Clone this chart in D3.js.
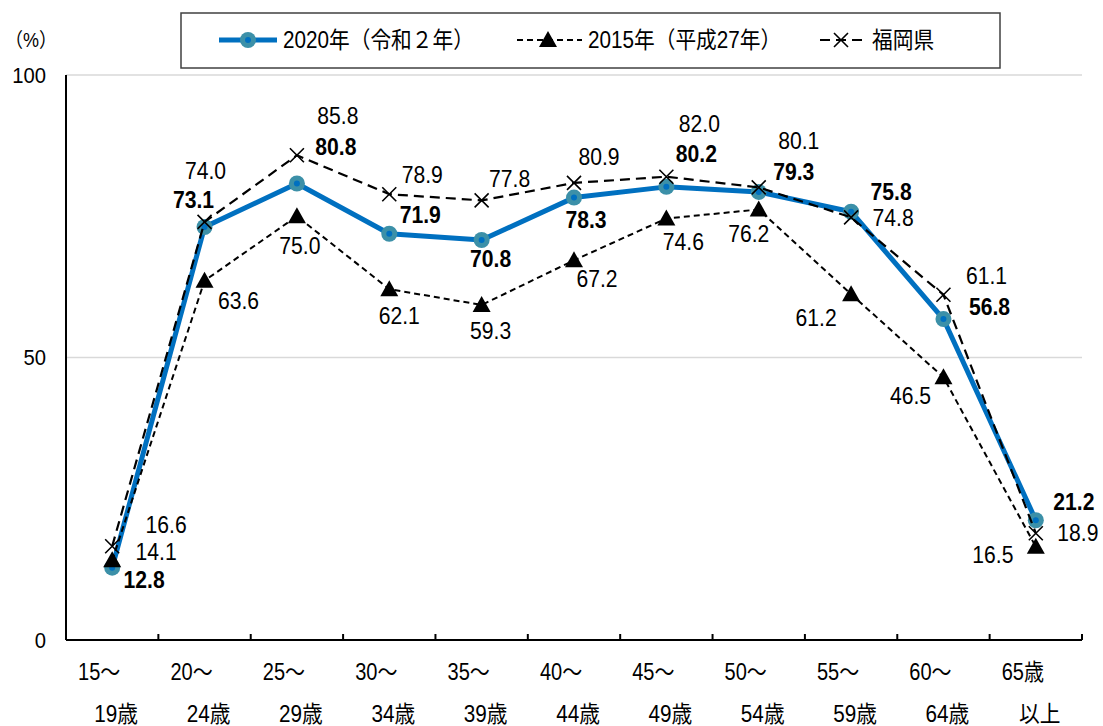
<!DOCTYPE html>
<html>
<head>
<meta charset="utf-8">
<script src="https://cdn.jsdelivr.net/npm/d3@7"></script>
<style>
  body { margin: 0; background: #fff; }
  svg text { font-family: "Liberation Sans", Arial, "Noto Sans CJK JP", sans-serif; fill: #000; }
</style>
</head>
<body>
<svg id="chart" width="1103" height="726"></svg>
<script>
// data
const ageTop = ['15～', '20～', '25～', '30～', '35～', '40～', '45～', '50～', '55～', '60～', '65歳'];
const ageBottom = ['19歳', '24歳', '29歳', '34歳', '39歳', '44歳', '49歳', '54歳', '59歳', '64歳', '以上'];
const yTicks = [0, 50, 100];
const rate2020 = [12.8, 73.1, 80.8, 71.9, 70.8, 78.3, 80.2, 79.3, 75.8, 56.8, 21.2];
const rate2015 = [14.1, 63.6, 75.0, 62.1, 59.3, 67.2, 74.6, 76.2, 61.2, 46.5, 16.5];
const rateFukuoka = [16.6, 74.0, 85.8, 78.9, 77.8, 80.9, 82.0, 80.1, 74.8, 61.1, 18.9];
const seriesNames = ['2020年（令和２年）', '2015年（平成27年）', '福岡県'];

// label placement (px offsets from each point)
const off2020 = [[32, 12], [-11, -27], [39, -37], [31, -19], [9, 19], [12, 22], [30, -33], [35, -20], [40, -20], [46, -12], [38, -18]];
const off2015 = [[44, -8], [34, 20], [3, 30], [10, 27], [9, 26], [23, 19], [17, 23], [-10, 24], [-35, 24], [-33, 19], [-43, 8]];
const offFukuoka = [[54, -21], [1, -51], [41, -39], [33, -19], [28, -21], [25, -26], [33, -53], [40, -47], [42, 1], [43, -19], [42, 0]];

const svg = d3.select('#chart');
const plotLeft = 66, plotRight = 1082, plotTop = 75, plotBottom = 640;

const x = d3.scaleBand().domain(ageTop).range([plotLeft, plotRight]);
const y = d3.scaleLinear().domain([0, 100]).range([plotBottom, plotTop]);
const cx = i => x(ageTop[i]) + x.bandwidth() / 2;

// condensed text look
const place = (px, py, sx) => 'translate(' + px + ',' + py + ') scale(' + sx + ',1)';

// gridlines
svg.append('g')
  .selectAll('line')
  .data(yTicks.filter(d => d > 0))
  .enter()
  .append('line')
  .attr('x1', plotLeft).attr('x2', plotRight)
  .attr('y1', d => y(d)).attr('y2', d => y(d))
  .attr('stroke', '#d9d9d9').attr('stroke-width', 1.3);

// y labels
svg.append('g')
  .selectAll('text')
  .data(yTicks)
  .enter()
  .append('text')
  .attr('transform', d => place(46, y(d), 0.92))
  .attr('dy', '0.35em')
  .attr('text-anchor', 'end')
  .style('font-size', '22px')
  .text(d => d);

svg.append('text')
  .attr('transform', place(5, 40, 0.9))
  .attr('dy', '0.35em')
  .style('font-size', '20px')
  .text('（%）');

// axes lines
svg.append('line')
  .attr('x1', plotLeft).attr('x2', plotLeft).attr('y1', plotTop).attr('y2', plotBottom)
  .attr('stroke', '#000').attr('stroke-width', 2);
svg.append('line')
  .attr('x1', plotLeft).attr('x2', plotRight).attr('y1', plotBottom).attr('y2', plotBottom)
  .attr('stroke', '#000').attr('stroke-width', 2);

// tick marks at band boundaries
const bounds = ageTop.map(d => x(d)).concat([plotRight]).slice(1);
svg.append('g')
  .selectAll('line')
  .data(bounds)
  .enter()
  .append('line')
  .attr('x1', d => d).attr('x2', d => d)
  .attr('y1', plotBottom).attr('y2', plotBottom - 6)
  .attr('stroke', '#000').attr('stroke-width', 2);

// x labels (two rows)
svg.append('g')
  .selectAll('text')
  .data(ageTop)
  .enter()
  .append('text')
  .attr('transform', (d, i) => place(cx(i) - 13, 672, 0.87))
  .attr('dy', '0.35em')
  .attr('text-anchor', 'middle')
  .style('font-size', '23px')
  .text(d => d);

svg.append('g')
  .selectAll('text')
  .data(ageBottom)
  .enter()
  .append('text')
  .attr('transform', (d, i) => place(cx(i) + 4, 714, 0.9))
  .attr('dy', '0.35em')
  .attr('text-anchor', 'middle')
  .style('font-size', '23px')
  .text(d => d);

const line = d3.line().x((d, i) => cx(i)).y(d => y(d));

// 2020 series
svg.append('path')
  .datum(rate2020)
  .attr('d', line)
  .attr('fill', 'none')
  .attr('stroke', '#0070c0')
  .attr('stroke-width', 5)
  .attr('stroke-linejoin', 'round');

const dots = svg.append('g')
  .selectAll('g')
  .data(rate2020)
  .enter()
  .append('g')
  .attr('transform', (d, i) => 'translate(' + cx(i) + ',' + y(d) + ')');
dots.append('circle').attr('r', 8).attr('fill', '#3c90a8');
dots.append('circle').attr('r', 3).attr('fill', '#0070c0');

// 2015 series
svg.append('path')
  .datum(rate2015)
  .attr('d', line)
  .attr('fill', 'none')
  .attr('stroke', '#000')
  .attr('stroke-width', 2)
  .attr('stroke-dasharray', '6,4');

svg.append('g')
  .selectAll('path')
  .data(rate2015)
  .enter()
  .append('path')
  .attr('d', 'M0,-9L9,7L-9,7Z')
  .attr('transform', (d, i) => 'translate(' + cx(i) + ',' + y(d) + ')')
  .attr('fill', '#000');

// Fukuoka series
svg.append('path')
  .datum(rateFukuoka)
  .attr('d', line)
  .attr('fill', 'none')
  .attr('stroke', '#000')
  .attr('stroke-width', 2.2)
  .attr('stroke-dasharray', '10,6');

svg.append('g')
  .selectAll('path')
  .data(rateFukuoka)
  .enter()
  .append('path')
  .attr('d', 'M-7,-7L7,7M-7,7L7,-7')
  .attr('transform', (d, i) => 'translate(' + cx(i) + ',' + y(d) + ')')
  .attr('stroke', '#000')
  .attr('stroke-width', 1.6);

// data labels
function addLabels(data, offsets, bold) {
  svg.append('g')
    .selectAll('text')
    .data(data)
    .enter()
    .append('text')
    .attr('transform', (d, i) => place(cx(i) + offsets[i][0], y(d) + offsets[i][1], 0.92))
    .attr('dy', '0.35em')
    .attr('text-anchor', 'middle')
    .style('font-size', '23px')
    .style('font-weight', bold ? 'bold' : 'normal')
    .text(d => d.toFixed(1));
}
addLabels(rateFukuoka, offFukuoka, false);
addLabels(rate2015, off2015, false);
addLabels(rate2020, off2020, true);

// legend
const legend = svg.append('g');
legend.append('rect')
  .attr('x', 181).attr('y', 13).attr('width', 819).attr('height', 55)
  .attr('fill', '#fff').attr('stroke', '#404040').attr('stroke-width', 1.5);

const ly = 40;
legend.append('line').attr('x1', 219).attr('x2', 277).attr('y1', ly).attr('y2', ly)
  .attr('stroke', '#0070c0').attr('stroke-width', 5);
legend.append('circle').attr('cx', 248).attr('cy', ly).attr('r', 8).attr('fill', '#3c90a8');
legend.append('circle').attr('cx', 248).attr('cy', ly).attr('r', 3).attr('fill', '#0070c0');

legend.append('line').attr('x1', 517).attr('x2', 582).attr('y1', ly).attr('y2', ly)
  .attr('stroke', '#000').attr('stroke-width', 2).attr('stroke-dasharray', '6,4');
legend.append('path').attr('d', 'M0,-9L9,7L-9,7Z')
  .attr('transform', 'translate(548,' + ly + ')').attr('fill', '#000');

legend.append('line').attr('x1', 820).attr('x2', 862).attr('y1', ly).attr('y2', ly)
  .attr('stroke', '#000').attr('stroke-width', 2.2).attr('stroke-dasharray', '10,6');
legend.append('path').attr('d', 'M-7,-7L7,7M-7,7L7,-7')
  .attr('transform', 'translate(841,' + ly + ')')
  .attr('stroke', '#000').attr('stroke-width', 1.6);

legend.selectAll('text.lg')
  .data(seriesNames)
  .enter()
  .append('text')
  .attr('class', 'lg')
  .attr('transform', (d, i) => place([283, 588, 872][i], ly, 0.9))
  .attr('dy', '0.35em')
  .style('font-size', '23px')
  .text(d => d);
</script>
</body>
</html>
